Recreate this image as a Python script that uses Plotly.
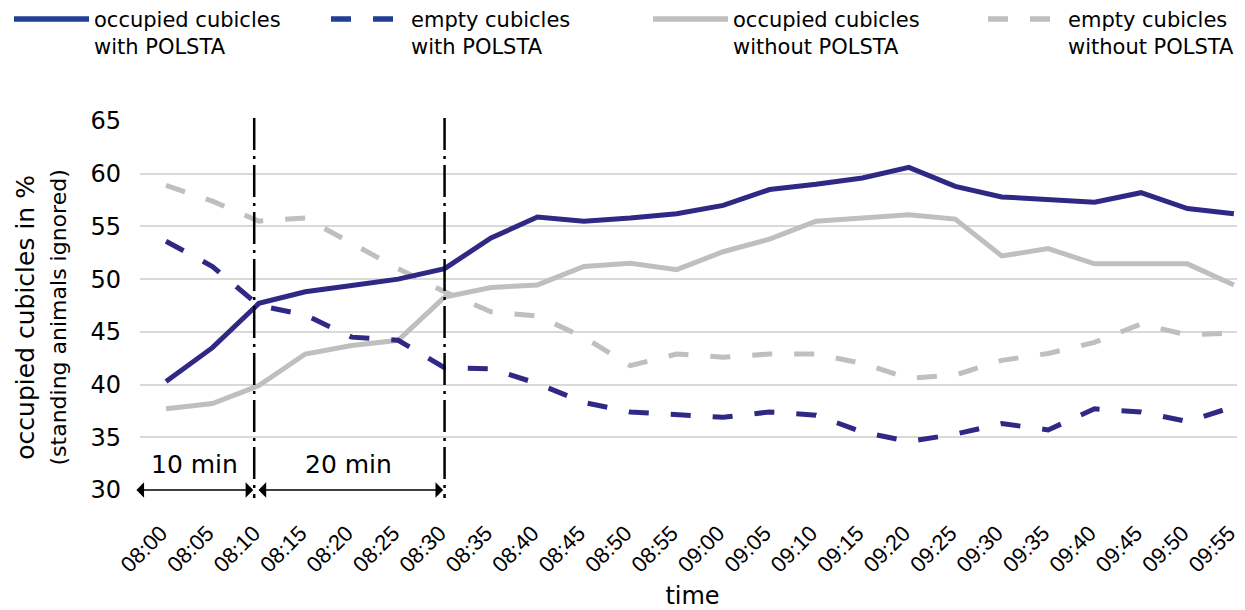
import plotly.graph_objects as go

times = ["08:00", "08:05", "08:10", "08:15", "08:20", "08:25", "08:30", "08:35",
         "08:40", "08:45", "08:50", "08:55", "09:00", "09:05", "09:10", "09:15",
         "09:20", "09:25", "09:30", "09:35", "09:40", "09:45", "09:50", "09:55"]

occ_with = [40.3, 43.5, 47.7, 48.8, 49.4, 50.0, 51.0, 53.9, 55.9, 55.5, 55.8, 56.2,
            57.0, 58.5, 59.0, 59.6, 60.6, 58.8, 57.8, 57.6, 57.3, 58.2, 56.7, 56.2]
empty_with = [53.6, 51.2, 47.5, 46.6, 44.5, 44.2, 41.6, 41.5, 40.1, 38.3, 37.4, 37.1,
              36.9, 37.4, 37.1, 35.5, 34.6, 35.3, 36.3, 35.7, 37.7, 37.4, 36.5, 37.9]
occ_without = [37.7, 38.2, 39.9, 42.9, 43.7, 44.2, 48.3, 49.2, 49.45, 51.2, 51.5, 50.9,
               52.6, 53.8, 55.5, 55.8, 56.1, 55.7, 52.2, 52.9, 51.45, 51.45, 51.45, 49.45]
empty_without = [58.9, 57.4, 55.5, 55.8, 53.4, 51.0, 48.8, 46.9, 46.5, 44.5, 41.8, 42.9,
                 42.6, 42.9, 42.9, 42.0, 40.6, 40.9, 42.3, 42.95, 44.0, 45.75, 44.7, 44.9]

series_names = ["occupied cubicles<br>with POLSTA", "empty cubicles<br>with POLSTA",
                "occupied cubicles<br>without POLSTA", "empty cubicles<br>without POLSTA"]
y_title = "occupied cubicles in %"
y_subtitle = "(standing animals ignored)"

BLUE = "#2f2985"
BLUE_LEG = "#1f3e95"
GRAY = "#bfbfbf"
DASH = "20px,22px"
LW = 5
FONT = "DejaVu Sans"
W, H = 1237, 602  # page adds an 8px body margin
ML, MT, MB = 132, 113, 120
PW, PH = W - ML, H - MT - MB

fig = go.Figure()
styles = [(BLUE, BLUE_LEG, "solid"), (BLUE, BLUE_LEG, DASH),
          (GRAY, GRAY, "solid"), (GRAY, GRAY, DASH)]
data = [occ_with, empty_with, occ_without, empty_without]

# draw gray series first then blue on top
for idx in [3, 2, 1, 0]:
    col, _, dash = styles[idx]
    fig.add_trace(go.Scatter(x=times, y=data[idx], mode="lines",
                             line=dict(color=col, width=LW, dash=dash),
                             showlegend=False, hoverinfo="skip"))

# legend entries, each in its own legend box
legend_ids = ["legend", "legend2", "legend3", "legend4"]
legend_x_px = [1, 318, 640, 975]
for idx in range(4):
    _, lcol, dash = styles[idx]
    fig.add_trace(go.Scatter(x=[None], y=[None], mode="lines", name=series_names[idx],
                             line=dict(color=lcol, width=LW + 0.5, dash=dash),
                             showlegend=True, legend=legend_ids[idx]))

legend_layout = {}
for lid, px in zip(legend_ids, legend_x_px):
    legend_layout[lid] = dict(x=px / W, xref="container", y=1.331, yref="paper",
                              xanchor="left", yanchor="top",
                              font=dict(family=FONT, size=21), itemwidth=75,
                              valign="top", bgcolor="rgba(0,0,0,0)")

# vertical dash-dot separators (drawn from the top down)
for xv in [1.9, 6.0]:
    fig.add_shape(type="line", xref="x", yref="paper", x0=xv, x1=xv, y0=1.008, y1=-0.022,
                  line=dict(color="black", width=2.5, dash="32px,6px,3px,6px"))

# double arrows
for (xa, xb) in [(-0.67, 1.88), (1.96, 5.97)]:
    fig.add_annotation(x=xb, y=30, ax=xa, ay=30, xref="x", yref="y", axref="x", ayref="y",
                       text="", showarrow=True, arrowhead=1, arrowside="end+start",
                       arrowsize=1.6, arrowwidth=1.6, arrowcolor="black",
                       standoff=0, startstandoff=0)

fig.add_annotation(x=0.62, y=32.4, xref="x", yref="y", text="10 min", showarrow=False,
                   font=dict(family=FONT, size=25, color="black"))
fig.add_annotation(x=3.92, y=32.4, xref="x", yref="y", text="20 min", showarrow=False,
                   font=dict(family=FONT, size=25, color="black"))

# y-axis title (two lines, second smaller)
fig.add_annotation(x=(32.5 - ML) / PW, y=(MT + PH - 310) / PH, xref="paper", yref="paper",
                   text=f"{y_title}<br><span style='font-size:22px'>{y_subtitle}</span>",
                   textangle=-90, showarrow=False, xanchor="center", yanchor="middle",
                   font=dict(family=FONT, size=25, color="black"))

fig.update_layout(
    width=W, height=H,
    margin=dict(l=ML, r=0, t=MT, b=MB, autoexpand=False),
    paper_bgcolor="white", plot_bgcolor="white",
    font=dict(family=FONT, color="black"),
    xaxis=dict(range=[-0.56, 23.24], showgrid=False, showline=False, zeroline=False,
               tickangle=-45, tickfont=dict(family="Liberation Sans", size=22),
               ticklabelshift=-5, ticklabelstandoff=25,
               ticks="", title=dict(text="time", font=dict(family=FONT, size=24), standoff=12)),
    yaxis=dict(range=[30, 65], dtick=5, showgrid=True, gridcolor="#d9d9d9", gridwidth=2,
               zeroline=False, showline=False, ticks="",
               tickfont=dict(family=FONT, size=24), ticklabelstandoff=18),
    **legend_layout,
)

fig.write_html("out.html")
